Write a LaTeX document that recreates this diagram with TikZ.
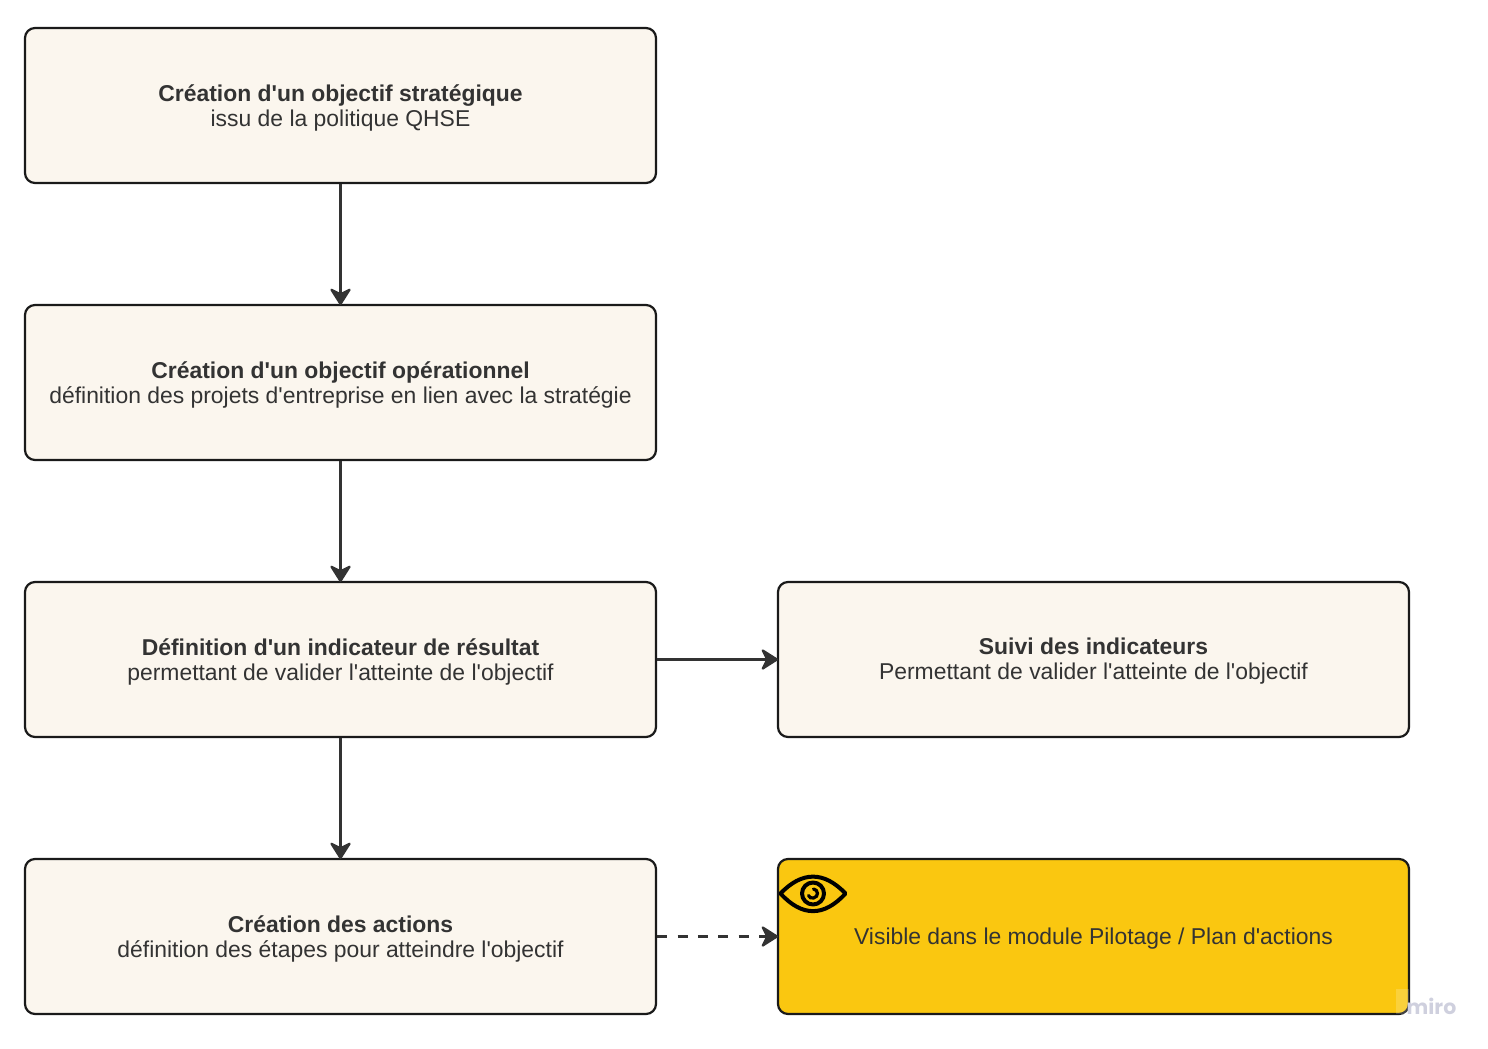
\documentclass[tikz,border=0pt]{standalone}
\usepackage{fontspec}
\setmainfont{Liberation Sans}[Ligatures=TeXOff]
\newfontfamily\wmfont{Poppins}
\usetikzlibrary{arrows.meta}
\definecolor{ink}{HTML}{1A1A1A}
\definecolor{txt}{HTML}{333333}
\definecolor{cream}{HTML}{FBF6EE}
\definecolor{gold}{HTML}{FAC710}
\definecolor{wm}{HTML}{CFD0DE}
\tikzset{
  x=1pt,y=-1pt,
  stepbox/.style={draw=ink,line width=2.2pt,rounded corners=10pt,fill=cream,
    minimum width=631pt,minimum height=155pt,inner sep=0pt},
  goldbox/.style={stepbox,fill=gold},
  boxtext/.style={text=txt,align=center,inner sep=0pt,yshift=-2pt,
    font=\fontsize{22.9}{25}\selectfont},
  link/.style={draw=txt,line width=2.2pt,shorten >=-1.2pt,
    -{Stealth[length=19pt,width=24pt,inset=6pt,round]}},
  dashlink/.style={link,dash pattern=on 10pt off 10.4pt},
  eyeline/.style={draw=black,line width=4pt,line join=round}
}
\begin{document}
\begin{tikzpicture}
\useasboundingbox (0,0) rectangle (1488,1049);
\node[stepbox] (a) at (340.5,105.5) {};
\node[stepbox] (b) at (340.5,382.5) {};
\node[stepbox] (c) at (340.5,659.5) {};
\node[stepbox] (d) at (340.5,936.5) {};
\node[stepbox] (e) at (1093.5,659.5) {};
\node[goldbox] (f) at (1093.5,936.5) {};
\node[boxtext] (ta) at (a) {\textbf{Création d'un objectif stratégique}\\issu de la politique QHSE};
\node[boxtext] (tb) at (b) {\textbf{Création d'un objectif opérationnel}\\définition des projets d'entreprise en lien avec la stratégie};
\node[boxtext] (tc) at (c) {\textbf{Définition d'un indicateur de résultat}\\permettant de valider l'atteinte de l'objectif};
\node[boxtext] (td) at (d) {\textbf{Création des actions}\\définition des étapes pour atteindre l'objectif};
\node[boxtext] (te) at (e) {\textbf{Suivi des indicateurs}\\Permettant de valider l'atteinte de l'objectif};
\node[boxtext] (tf) at (f) {Visible dans le module Pilotage / Plan d'actions};
\draw[link] (a) -- (b);
\draw[link] (b) -- (c);
\draw[link] (c) -- (d);
\draw[link] (c) -- (e);
\draw[dashlink] (d) -- (f);
% eye icon
\draw[eyeline] (780.5,893.5) .. controls (802,871) and (824,871) .. (845.5,893.5)
  .. controls (824,917) and (802,917) .. (780.5,893.5) -- cycle;
\draw[eyeline] (813,893.5) circle (11pt);
\draw[draw=black,line width=3.2pt,line cap=round] (813.5,889) .. controls (818.5,889.5) and (819,897) .. (813.5,898) .. controls (811,898.5) and (809.5,897.5) .. (808.5,895.5);
% watermark
\fill[white,opacity=.18] (1396,989) rectangle (1409,1014);
\node[text=wm,font=\wmfont\bfseries\fontsize{20.5}{21}\selectfont,inner sep=0pt] (m) at (1431.5,1006) {miro};
\end{tikzpicture}
\end{document}
